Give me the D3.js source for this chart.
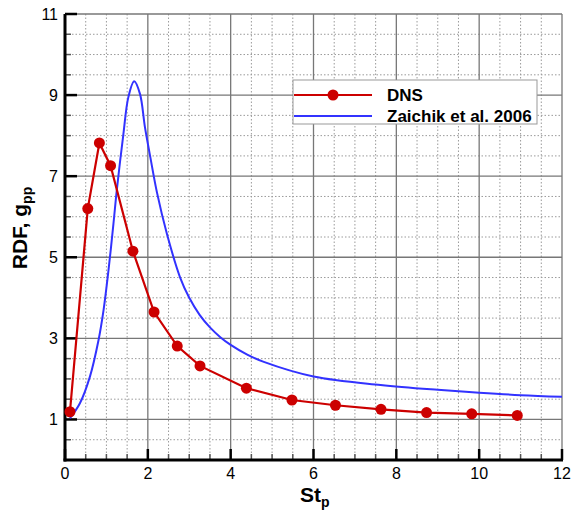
<!DOCTYPE html>
<html><head><meta charset="utf-8">
<script src="https://cdn.jsdelivr.net/npm/d3@7/dist/d3.min.js"></script>
<style>body{margin:0;background:#fff;} svg{display:block;font-family:"Liberation Sans",Arial,sans-serif;}</style>
</head><body>
<svg id="c" width="574" height="512"></svg>
<script>
// DNS data
const dnsSt  = [0.12, 0.55, 0.83, 1.10, 1.64, 2.15, 2.71, 3.26, 4.38, 5.48, 6.53, 7.63, 8.73, 9.82, 10.92];
const dnsRdf = [1.19, 6.20, 7.82, 7.26, 5.15, 3.65, 2.81, 2.32, 1.77, 1.48, 1.35, 1.25, 1.17, 1.14, 1.10];
// Zaichik et al. 2006 model curve
const zSt  = [0.12, 0.36, 0.60, 0.81, 0.93, 1.05, 1.17, 1.25, 1.41, 1.53, 1.67, 1.81, 1.93, 2.06, 2.22, 2.46, 2.78, 3.0, 3.25, 3.5, 3.75, 4.0, 4.4, 4.8, 6.0, 7.62, 9.0, 10.0, 11.0, 12.0];
const zRdf = [1.03, 1.40, 2.05, 2.96, 3.69, 4.68, 5.83, 6.65, 8.04, 8.95, 9.34, 9.03, 8.21, 7.47, 6.60, 5.58, 4.50, 4.00, 3.58, 3.27, 3.03, 2.84, 2.60, 2.42, 2.06, 1.85, 1.73, 1.66, 1.60, 1.56];
const xTicks = [0, 2, 4, 6, 8, 10, 12];
const yTicks = [1, 3, 5, 7, 9, 11];
const legendLabels = ["DNS", "Zaichik et al. 2006"];

const svg = d3.select("#c");
const x = d3.scaleLinear().domain([0, 12]).range([65, 562]);
const y = d3.scaleLinear().domain([0, 11]).range([460, 14]);
const red = "#cc0000", blue = "#3232ff";

// minor grid
const minorX = d3.range(0.5, 12, 0.5).filter(v => v % 2 !== 0);
const minorY = d3.range(0.5, 11, 0.5).filter(v => !yTicks.includes(v));
const g = svg.append("g");
g.selectAll(".mx").data(minorX).join("line")
  .attr("x1", d => x(d)).attr("x2", d => x(d)).attr("y1", y(0)).attr("y2", y(11))
  .attr("stroke", "#9a9a9a").attr("stroke-width", 1).attr("stroke-dasharray", "1.5,2");
g.selectAll(".my").data(minorY).join("line")
  .attr("y1", d => y(d)).attr("y2", d => y(d)).attr("x1", x(0)).attr("x2", x(12))
  .attr("stroke", "#9a9a9a").attr("stroke-width", 1).attr("stroke-dasharray", "1.5,2");
// major grid
g.selectAll(".Mx").data(xTicks.filter(d => d > 0)).join("line")
  .attr("x1", d => x(d)).attr("x2", d => x(d)).attr("y1", y(0)).attr("y2", y(11))
  .attr("stroke", "#777").attr("stroke-width", 1.3);
g.selectAll(".My").data(yTicks).join("line")
  .attr("y1", d => y(d)).attr("y2", d => y(d)).attr("x1", x(0)).attr("x2", x(12))
  .attr("stroke", "#777").attr("stroke-width", 1.3);

// ticks
const minorTx = d3.range(0.5, 12, 0.5).filter(v => v % 2 !== 0);
svg.selectAll(".tmx").data(minorTx).join("line")
  .attr("x1", d => x(d)).attr("x2", d => x(d)).attr("y1", y(0)).attr("y2", y(0) - 6)
  .attr("stroke", "#555").attr("stroke-width", 1.5);
svg.selectAll(".tMx").data(xTicks).join("line")
  .attr("x1", d => x(d)).attr("x2", d => x(d)).attr("y1", y(0)).attr("y2", y(0) - 11)
  .attr("stroke", "#000").attr("stroke-width", 2.5);
svg.selectAll(".tmy").data(minorY).join("line")
  .attr("y1", d => y(d)).attr("y2", d => y(d)).attr("x1", x(0)).attr("x2", x(0) + 6)
  .attr("stroke", "#555").attr("stroke-width", 1.5);
svg.selectAll(".tMy").data(yTicks).join("line")
  .attr("y1", d => y(d)).attr("y2", d => y(d)).attr("x1", x(0)).attr("x2", x(0) + 12)
  .attr("stroke", "#000").attr("stroke-width", 2.5);

// axis lines
svg.append("line").attr("x1", x(0)).attr("x2", x(0)).attr("y1", y(0) + 1.5).attr("y2", y(11))
  .attr("stroke", "#000").attr("stroke-width", 3);
svg.append("line").attr("x1", x(0) - 1.5).attr("x2", x(12) + 1).attr("y1", y(0)).attr("y2", y(0))
  .attr("stroke", "#000").attr("stroke-width", 3);

// tick labels
svg.selectAll(".lx").data(xTicks).join("text")
  .attr("x", d => x(d)).attr("y", 479).attr("text-anchor", "middle")
  .attr("font-size", 16).text(d => d);
svg.selectAll(".ly").data(yTicks).join("text")
  .attr("x", 58).attr("y", d => y(d) + 6).attr("text-anchor", "end")
  .attr("font-size", 16).text(d => d);

// axis titles
const xt = svg.append("text").attr("x", 300).attr("y", 502).attr("font-weight", "bold").attr("font-size", 21);
xt.append("tspan").text("St");
xt.append("tspan").attr("font-size", 14).attr("dy", 5).text("p");
const yt = svg.append("text").attr("transform", "translate(27,228) rotate(-90)")
  .attr("text-anchor", "middle").attr("font-weight", "bold").attr("font-size", 21);
yt.append("tspan").text("RDF, g");
yt.append("tspan").attr("font-size", 14).attr("dy", 5).text("pp");

// curves
const lineZ = d3.line().x(d => x(d[0])).y(d => y(d[1])).curve(d3.curveCatmullRom.alpha(0.5));
svg.append("path").datum(zSt.map((s, i) => [s, zRdf[i]]))
  .attr("d", lineZ).attr("fill", "none").attr("stroke", blue).attr("stroke-width", 2);
const lineD = d3.line().x(d => x(d[0])).y(d => y(d[1]));
const dns = dnsSt.map((s, i) => [s, dnsRdf[i]]);
svg.append("path").datum(dns).attr("d", lineD).attr("fill", "none").attr("stroke", red).attr("stroke-width", 2.2);
svg.selectAll(".pt").data(dns).join("circle")
  .attr("cx", d => x(d[0])).attr("cy", d => y(d[1])).attr("r", 5.5).attr("fill", red);

// legend
const lg = svg.append("g");
lg.append("rect").attr("x", 293).attr("y", 80).attr("width", 244).attr("height", 44)
  .attr("fill", "#fff").attr("stroke", "#999").attr("stroke-width", 1);
lg.append("line").attr("x1", 294).attr("x2", 372).attr("y1", 95).attr("y2", 95).attr("stroke", red).attr("stroke-width", 2.2);
lg.append("circle").attr("cx", 333).attr("cy", 95).attr("r", 5.5).attr("fill", red);
lg.append("line").attr("x1", 294).attr("x2", 372).attr("y1", 116).attr("y2", 116).attr("stroke", blue).attr("stroke-width", 2);
lg.selectAll(".lt").data(legendLabels).join("text")
  .attr("x", 387).attr("y", (d, i) => 101 + i * 21).attr("font-weight", "bold").attr("font-size", 17).text(d => d);
</script>
</body></html>
